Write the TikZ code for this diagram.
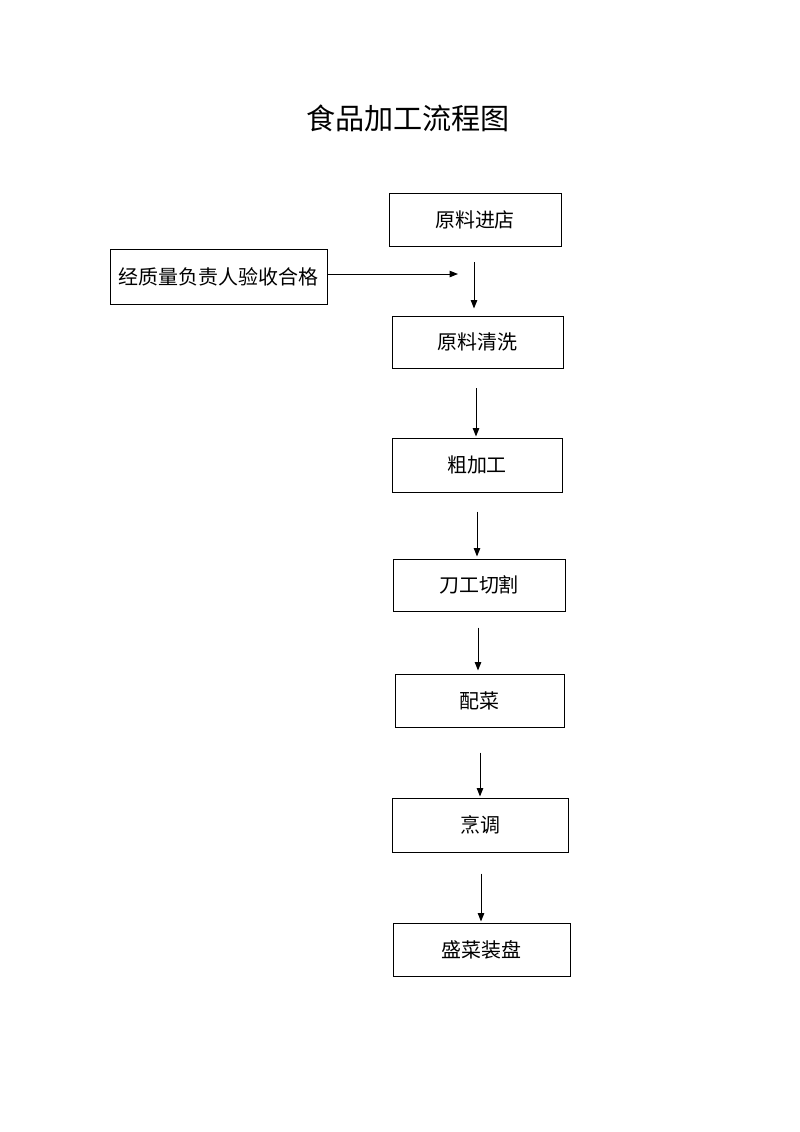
\documentclass[tikz,border=0pt]{standalone}
\usepackage{fontspec}
\setmainfont{Noto Sans CJK SC}
\usetikzlibrary{arrows.meta}

\begin{document}
\begin{tikzpicture}[x=0.025cm,y=-0.025cm]
\tikzstyle{every node}+=[inner sep=0pt]
\tikzstyle{stepbox}=[draw=black,line width=0.7pt,font=\fontsize{14.2}{17}\selectfont]
\tikzstyle{flow}=[black,line width=0.7pt,-{Triangle[length=6pt,width=4.6pt]}]
\useasboundingbox (0,0) rectangle (800,1132);
\node (title) at (408,118) {\fontsize{20.7}{24}\selectfont 食品加工流程图};
\node [stepbox,minimum width=172*0.025cm,minimum height=53*0.025cm] (b1) at (475,219.5) {原料进店};
\node [stepbox,minimum width=171*0.025cm,minimum height=52*0.025cm] (b2) at (477.5,342) {原料清洗};
\node [stepbox,minimum width=170*0.025cm,minimum height=54*0.025cm] (b3) at (477,465) {粗加工};
\node [stepbox,minimum width=172*0.025cm,minimum height=52*0.025cm] (b4) at (479,585) {刀工切割};
\node [stepbox,minimum width=169*0.025cm,minimum height=53*0.025cm] (b5) at (479.5,700.5) {配菜};
\node [stepbox,minimum width=176*0.025cm,minimum height=54*0.025cm] (b6) at (480,825) {烹调};
\node [stepbox,minimum width=177*0.025cm,minimum height=53*0.025cm] (b7) at (481.5,949.5) {盛菜装盘};
\node [stepbox,minimum width=217*0.025cm,minimum height=55*0.025cm] (check) at (218.5,276.5) {经质量负责人验收合格};
\coordinate (in) at (458,274);
\draw [flow] (check.east |- in) -- (in);
\foreach \a/\b/\x/\s/\e in {b1/b2/474/16/7,b2/b3/476/20/1,b3/b4/477/19/2,b4/b5/478/16/3,b5/b6/480/25/1,b6/b7/481/21/1}
  \draw [flow,shorten <=\s*0.025cm,shorten >=\e*0.025cm] (\a.south -| \x,0) -- (\b.north -| \x,0);
\end{tikzpicture}
\end{document}
